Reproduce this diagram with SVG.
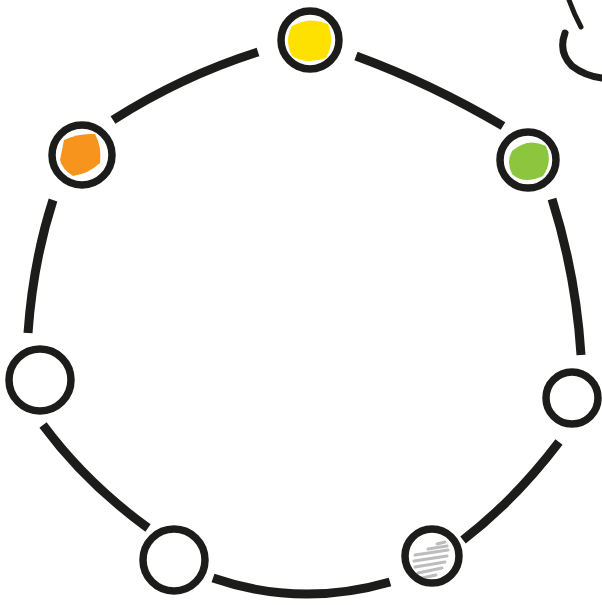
<svg xmlns="http://www.w3.org/2000/svg" width="602" height="605" viewBox="0 0 602 605">
<style>
.link{fill:none;stroke:#1c1c1a;stroke-width:9;stroke-linecap:butt}
.ring{fill:none;stroke:#1c1c1a;stroke-width:7.5}
.deco{fill:none;stroke:#1c1c1a;stroke-linecap:round}
</style>
<rect width="602" height="605" fill="#ffffff"/>
<g id="connectors">
<path class="link" d="M113,120 Q182,76 258,52"/>
<path class="link" d="M356,56 Q432,84 503,126"/>
<path class="link" d="M552,199 Q576,275 581,355"/>
<path class="link" d="M559,442 Q515,500 463,540"/>
<path class="link" d="M390,582 Q300,608 213,578"/>
<path class="link" d="M148,528 Q86,483 43,425"/>
<path class="link" d="M28,333 Q33,262 53,200"/>
</g>
<g id="node-yellow">
<path d="M292,26 Q310,16 328,24 Q335,42 326,58 Q306,65 292,56 Q284,40 292,26 Z" fill="#ffe100"/>
<circle class="ring" cx="310" cy="40" r="29"/>
</g>
<g id="node-orange">
<path d="M64,140 Q78,133 95,134 Q102,147 100,163 Q88,174 73,176 Q62,169 60,160 Z" fill="#f7941d"/>
<circle class="ring" cx="82" cy="155" r="30"/>
</g>
<g id="node-green">
<path d="M512,151 Q528,137 546,146 Q553,162 543,176 Q524,185 512,174 Q506,162 512,151 Z" fill="#8cc63f"/>
<circle class="ring" cx="528" cy="160" r="28"/>
</g>
<g id="node-left">
<circle class="ring" cx="40" cy="380" r="31"/>
</g>
<g id="node-right">
<circle class="ring" cx="572" cy="398" r="26"/>
</g>
<g id="node-bottom-left">
<circle class="ring" cx="174" cy="560" r="31"/>
</g>
<g id="node-bottom-right">
<g stroke="#bdbdbd" stroke-width="3" stroke-linecap="round">
<line x1="437" y1="544" x2="445" y2="542"/>
<line x1="428" y1="549" x2="447" y2="546"/>
<line x1="415" y1="555" x2="448" y2="550"/>
<line x1="414" y1="561" x2="447" y2="556"/>
<line x1="415" y1="567" x2="445" y2="562"/>
<line x1="418" y1="573" x2="442" y2="568"/>
<line x1="422" y1="578" x2="436" y2="575"/>
</g>
<circle class="ring" cx="432" cy="556" r="27"/>
</g>
<g id="corner-sketch">
<path class="deco" stroke-width="5" d="M569,0 Q574,14 581,27"/>
<path class="deco" stroke-width="7" d="M565,33 Q558,52 572,66 Q585,76 602,78"/>
</g>
</svg>
